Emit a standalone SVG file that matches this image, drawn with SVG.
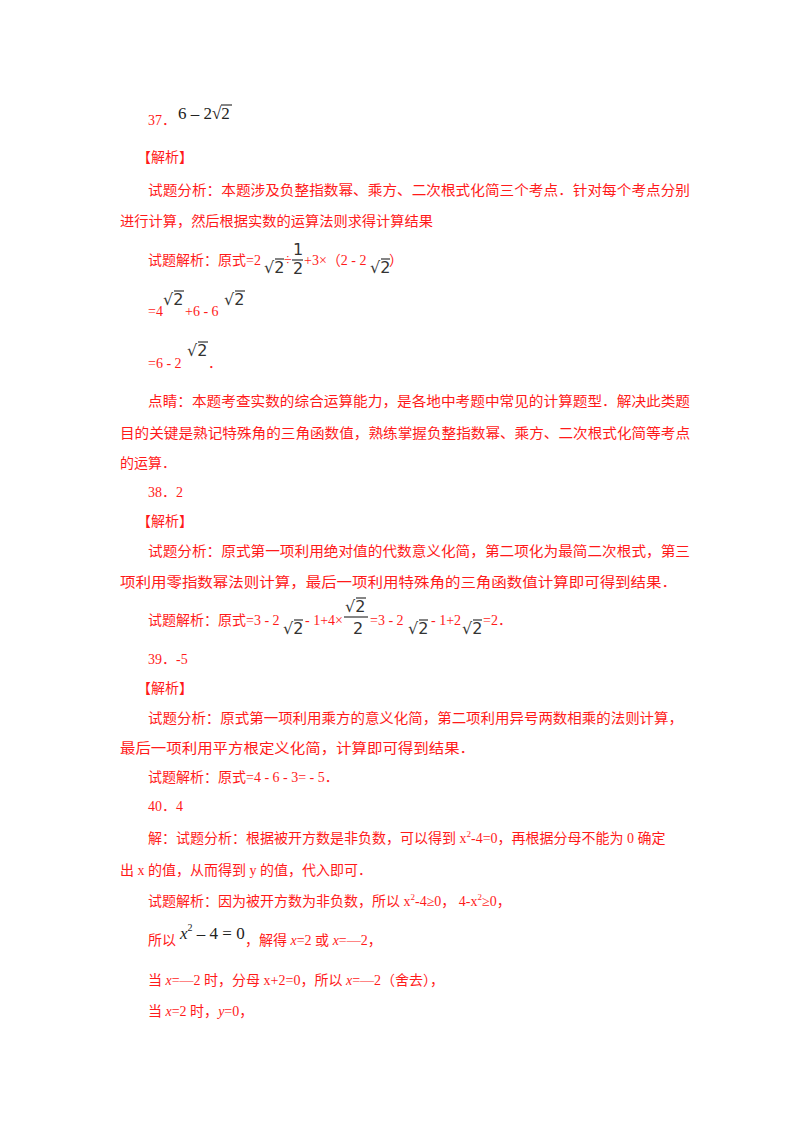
<svg xmlns="http://www.w3.org/2000/svg" width="800" height="1132" viewBox="0 0 800 1132">
<style>
.r{fill:#ff1a1a;font-family:"Liberation Serif","Noto Sans CJK SC",serif;font-size:14px}
.m{fill:#222;font-family:"Liberation Serif","Noto Sans CJK SC",serif;font-size:17px}
.k{fill:#333;font-family:"DejaVu Sans",sans-serif;font-size:16px}
.o{stroke:#333;stroke-width:1.2}
.i{font-style:italic}
</style>
<rect width="800" height="1132" fill="#fff"/>
<text class="r" x="148" y="125">37．</text>
<text class="m" x="178" y="119">6 – 2√2</text>
<line class="o" x1="221" y1="105" x2="232" y2="105"/>
<text class="r" x="137" y="162">【解析】</text>
<text class="r" x="148" y="195" textLength="542" lengthAdjust="spacingAndGlyphs">试题分析：本题涉及负整指数幂、乘方、二次根式化简三个考点．针对每个考点分别</text>
<text class="r" x="120" y="226" textLength="313" lengthAdjust="spacingAndGlyphs">进行计算，然后根据实数的运算法则求得计算结果</text>
<text class="r" x="148" y="265">试题解析：原式=2</text>
<text class="k" x="264" y="273">√2</text><line class="o" x1="275" y1="259" x2="284" y2="259"/>
<text class="r" x="284" y="265">÷</text>
<text class="k" x="293" y="255">1</text><line class="o" x1="292" y1="260" x2="303" y2="260"/><text class="k" x="293" y="274">2</text>
<text class="r" x="304" y="265">+3×（2 - 2</text>
<text class="k" x="370" y="273">√2</text><line class="o" x1="381" y1="259" x2="390" y2="259"/>
<text class="r" x="389" y="265">）</text>
<text class="r" x="148" y="316">=4</text>
<text class="k" x="163" y="305">√2</text><line class="o" x1="174" y1="291" x2="184" y2="291"/>
<text class="r" x="185" y="316">+6 - 6</text>
<text class="k" x="224" y="305">√2</text><line class="o" x1="235" y1="291" x2="245" y2="291"/>
<text class="r" x="148" y="368">=6 - 2</text>
<text class="k" x="187" y="356">√2</text><line class="o" x1="198" y1="342" x2="208" y2="342"/>
<text class="r" x="208" y="368">．</text>
<text class="r" x="148" y="406" textLength="542" lengthAdjust="spacingAndGlyphs">点睛：本题考查实数的综合运算能力，是各地中考题中常见的计算题型．解决此类题</text>
<text class="r" x="120" y="438" textLength="570" lengthAdjust="spacingAndGlyphs">目的关键是熟记特殊角的三角函数值，熟练掌握负整指数幂、乘方、二次根式化简等考点</text>
<text class="r" x="120" y="468">的运算．</text>
<text class="r" x="148" y="497">38．2</text>
<text class="r" x="137" y="526">【解析】</text>
<text class="r" x="148" y="556" textLength="542" lengthAdjust="spacingAndGlyphs">试题分析：原式第一项利用绝对值的代数意义化简，第二项化为最简二次根式，第三</text>
<text class="r" x="120" y="587" textLength="557" lengthAdjust="spacingAndGlyphs">项利用零指数幂法则计算，最后一项利用特殊角的三角函数值计算即可得到结果．</text>
<text class="r" x="148" y="625">试题解析：原式=3 - 2</text>
<text class="k" x="283" y="634">√2</text><line class="o" x1="294" y1="620" x2="303" y2="620"/>
<text class="r" x="305" y="625">- 1+4×</text>
<text class="k" x="345" y="612">√2</text><line class="o" x1="356" y1="598" x2="366" y2="598"/>
<line class="o" x1="344" y1="617" x2="368" y2="617"/><text class="k" x="353" y="634">2</text>
<text class="r" x="370" y="625">=3 - 2</text>
<text class="k" x="408" y="634">√2</text><line class="o" x1="419" y1="620" x2="428" y2="620"/>
<text class="r" x="431" y="625">- 1+2</text>
<text class="k" x="462" y="634">√2</text><line class="o" x1="473" y1="620" x2="482" y2="620"/>
<text class="r" x="483" y="625">=2．</text>
<text class="r" x="148" y="664">39．-5</text>
<text class="r" x="137" y="693">【解析】</text>
<text class="r" x="148" y="723" textLength="535" lengthAdjust="spacingAndGlyphs">试题分析：原式第一项利用乘方的意义化简，第二项利用异号两数相乘的法则计算，</text>
<text class="r" x="120" y="753" textLength="355" lengthAdjust="spacingAndGlyphs">最后一项利用平方根定义化简，计算即可得到结果．</text>
<text class="r" x="148" y="782">试题解析：原式=4 - 6 - 3= - 5．</text>
<text class="r" x="148" y="811">40．4</text>
<text class="r" x="148" y="843">解：试题分析：根据被开方数是非负数，可以得到 x<tspan dy="-6" font-size="9">2</tspan><tspan dy="6">-4=0，再根据分母不能为 0 确定</tspan></text>
<text class="r" x="120" y="875">出 x 的值，从而得到 y 的值，代入即可．</text>
<text class="r" x="148" y="906">试题解析：因为被开方数为非负数，所以 x<tspan dy="-6" font-size="9">2</tspan><tspan dy="6">-4≥0，  4-x</tspan><tspan dy="-6" font-size="9">2</tspan><tspan dy="6">≥0，</tspan></text>
<text class="r" x="148" y="945">所以</text>
<text class="m" x="180" y="939"><tspan class="i">x</tspan><tspan dy="-8" font-size="10">2</tspan><tspan dy="8"> – 4 = 0</tspan></text>
<text class="r" x="245" y="945">，解得 <tspan class="i">x</tspan>=2 或 <tspan class="i">x</tspan>=—2，</text>
<text class="r" x="148" y="985">当 <tspan class="i">x</tspan>=—2 时，分母 x+2=0，所以 <tspan class="i">x</tspan>=—2（舍去），</text>
<text class="r" x="148" y="1016">当 <tspan class="i">x</tspan>=2 时，<tspan class="i">y</tspan>=0，</text>
</svg>
